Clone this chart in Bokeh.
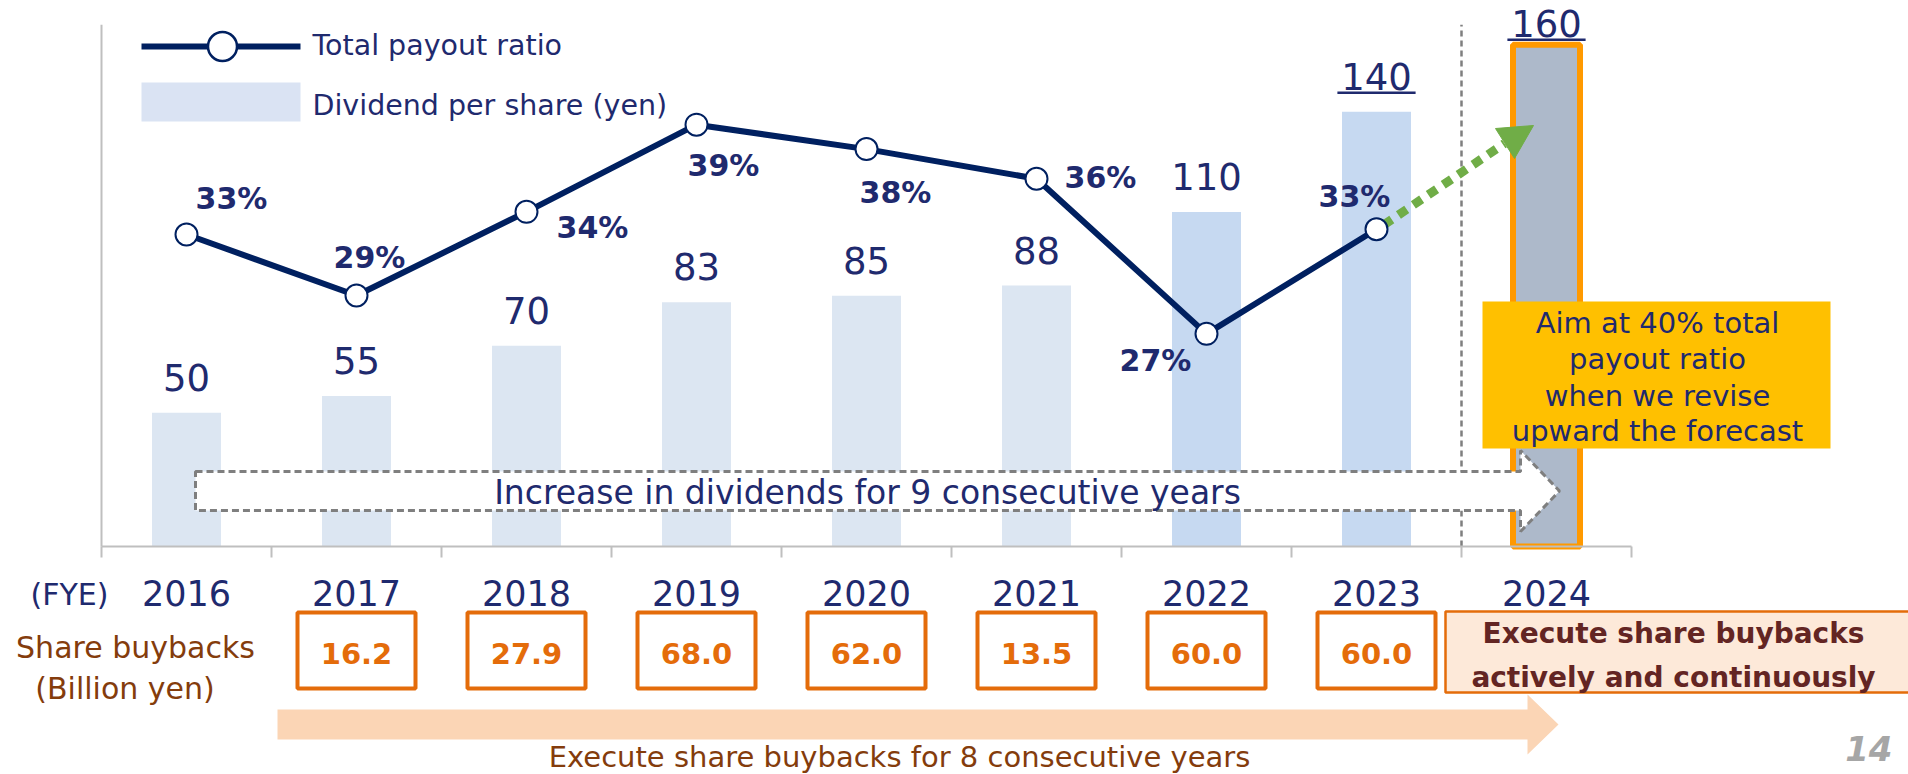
import numpy as np
from bokeh.plotting import figure
from bokeh.models import Range1d
from bokeh.embed import file_html
from bokeh.resources import INLINE
from bokeh.core.properties import value

# ---------------- data ----------------
years = ["2016", "2017", "2018", "2019", "2020", "2021", "2022", "2023", "2024"]
dividend = [50, 55, 70, 83, 85, 88, 110, 140, 160]          # yen per share
payout = [32.9, 29.4, 34.2, 39.2, 37.8, 36.1, 27.2, 33.2]   # total payout ratio %, FY2016-2023
payout_labels = ["33%", "29%", "34%", "39%", "38%", "36%", "27%", "33%"]
buybacks = [16.2, 27.9, 68.0, 62.0, 13.5, 60.0, 60.0]       # billion yen, FY2017-2023

# ---------------- styles ----------------
FONT = value("DejaVu Sans")
NAVY = "#1F2A6E"
LINE_NAVY = "#002060"
BROWN = "#843C0C"
ORANGE = "#E46C0A"
GREY = "#BFBFBF"
BL = 0.34                 # baseline correction (em) for alphabetic text

W, H = 1908, 774
AX_X0 = 101               # x of the y-axis
CAT_W = 170               # pixels per category
BASE_VAL = 10             # dividend axis minimum
AXIS_TOP = 166            # dividend axis maximum
BASE_Y = 546              # y of baseline
DPS_PX = 3.345            # pixels per yen
PCT_MIN = 15              # payout axis minimum
PCT_PX = 17.43            # pixels per percent

x_range = Range1d(-AX_X0 / CAT_W, (W - AX_X0) / CAT_W)
y_range = Range1d(BASE_VAL - (H - BASE_Y) / DPS_PX, BASE_VAL + BASE_Y / DPS_PX)

p = figure(width=W, height=H, x_range=x_range, y_range=y_range,
           output_backend="svg", toolbar_location=None, min_border=0,
           x_axis_location=None, y_axis_location=None, outline_line_color=None,
           background_fill_color="white", border_fill_color="white")
p.xgrid.visible = False
p.ygrid.visible = False
p.extra_y_ranges = {
    "pct": Range1d(PCT_MIN - (H - BASE_Y) / PCT_PX, PCT_MIN + BASE_Y / PCT_PX),
    "px": Range1d(H, 0),
}
p.extra_x_ranges = {"px": Range1d(0, W)}
PXR = dict(x_range_name="px", y_range_name="px")


def txt(x, y, text, fs, color, align="center", style="normal", **kw):
    """alphabetic-baseline text; y is the baseline position"""
    off = kw.pop("y_offset", 0)
    if np.ndim(off):
        off = [o - BL * fs for o in off]
    else:
        off = off - BL * fs
    p.text(x=x, y=y, text=text, y_offset=off, text_align=align,
           text_baseline="alphabetic", text_font=FONT, text_font_style=style,
           text_font_size=f"{fs}px", text_color=color, **kw)


n = len(years)
xc = np.arange(n) + 0.5
bounds = np.arange(n + 1)

# ---------------- bars ----------------
bar_colors = ["#DCE6F2"] * 6 + ["#C6D9F1"] * 2
p.vbar(x=xc[:8], top=dividend[:8], bottom=BASE_VAL, width=69 / CAT_W,
       fill_color=bar_colors, line_color=None)
p.vbar(x=xc[8:], top=dividend[8:], bottom=BASE_VAL, width=67 / CAT_W,
       fill_color="#ADB9CA", line_color="#FF9900", line_width=6)

# separator between actual and forecast
p.line([float(n - 1)] * 2, [BASE_VAL, AXIS_TOP], line_color="#7F7F7F",
       line_width=2.5, line_dash="6 4")

# axes
p.line([0, 0], [BASE_VAL, AXIS_TOP], line_color=GREY, line_width=2)
p.line([0, n], [BASE_VAL, BASE_VAL], line_color=GREY, line_width=2)
p.segment(x0=bounds, x1=bounds, y0=BASE_Y, y1=BASE_Y + 11, y_range_name="px",
          line_color=GREY, line_width=2)

# year labels
txt(xc, 604, years, 35, NAVY, y_range_name="px")

# dividend value labels
txt(xc[:8], dividend[:8], [str(v) for v in dividend[:8]], 37, NAVY, y_offset=-23)
txt(xc[8:], dividend[8:], [str(v) for v in dividend[8:]], 37, NAVY, y_offset=-9)
ul_y = [dividend[7] + 19 / DPS_PX, dividend[8] + 5 / DPS_PX]
p.segment(x0=xc[7:] - 0.23, x1=xc[7:] + 0.23, y0=ul_y, y1=ul_y,
          line_color=NAVY, line_width=2.5)

# dashed "increase" arrow
p.patch([195, 1520, 1520, 1559, 1520, 1520, 195],
        [471, 471, 450, 490.5, 531, 510, 510], fill_color="white",
        line_color="#7F7F7F", line_width=3, line_dash="7 4", **PXR)
txt([867], [503], ["Increase in dividends for 9 consecutive years"], 33, NAVY, **PXR)

# green dotted arrow to forecast
p.line([1383, 1504], [224.5, 143], line_color="#70AD47", line_width=9,
       line_dash="10 8", **PXR)
p.patch([1533, 1495, 1514], [125, 128, 158], fill_color="#70AD47",
        line_color="#70AD47", **PXR)

# payout ratio line
p.line(xc[:8], payout, y_range_name="pct", line_color=LINE_NAVY, line_width=6)
p.scatter(xc[:8], payout, y_range_name="pct", size=22, fill_color="white",
          line_color=LINE_NAVY, line_width=2)
lab_dx = [45, 13, 66, 27, 29, 64, -51, -22]
lab_dy = [-25.5, -27.5, 26, 51, 54, 9, 37, -23]
txt(xc[:8], payout, payout_labels, 30, NAVY, style="bold", x_offset=lab_dx,
    y_offset=lab_dy, y_range_name="pct")

# aim box
p.quad(left=1482, right=1830, top=301, bottom=448, fill_color="#FFC000",
       line_color=None, **PXR)
txt([1657] * 4, [332, 368, 405, 440],
    ["Aim at 40% total", "payout ratio", "when we revise", "upward the forecast"],
    29, NAVY, **PXR)

# legend
p.line([141, 300], [46, 46], line_color=LINE_NAVY, line_width=6, **PXR)
p.scatter([222], [46], size=29, fill_color="white", line_color=LINE_NAVY,
          line_width=2.5, **PXR)
p.quad(left=141, right=300, top=82, bottom=121, fill_color="#DAE3F3",
       line_color=None, **PXR)
txt([312, 312], [55, 115], ["Total payout ratio", "Dividend per share (yen)"],
    28.5, NAVY, align="left", **PXR)

# ---------------- share buybacks row ----------------
txt([69], [604], ["(FYE)"], 30, NAVY, **PXR)
txt([135, 124.5], [657, 698], ["Share buybacks", "(Billion yen)"], 30, BROWN, **PXR)

p.rect(x=xc[1:8], y=650, width=118 / CAT_W, height=76, y_range_name="px",
       fill_color="white", line_color=ORANGE, line_width=4)
txt(xc[1:8], 663, [f"{v:.1f}" for v in buybacks], 29, ORANGE, style="bold",
    y_range_name="px")

p.quad(left=1445, right=1930, top=611, bottom=692, fill_color="#FDE9D9",
       line_color=ORANGE, line_width=2.5, **PXR)
txt([1673, 1673], [643, 687], ["Execute share buybacks", "actively and continuously"],
    28, "#632523", style="bold", **PXR)

p.patch([277, 1527, 1527, 1558, 1527, 1527, 277],
        [709, 709, 694, 724, 754, 739, 739], fill_color="#FBD5B5",
        line_color=None, **PXR)
txt([899], [766], ["Execute share buybacks for 8 consecutive years"], 29, BROWN, **PXR)

txt([1892], [760], ["14"], 34, "#A6A6A6", align="right", style="bold italic", **PXR)

open("out.html", "w").write(file_html(p, INLINE))
